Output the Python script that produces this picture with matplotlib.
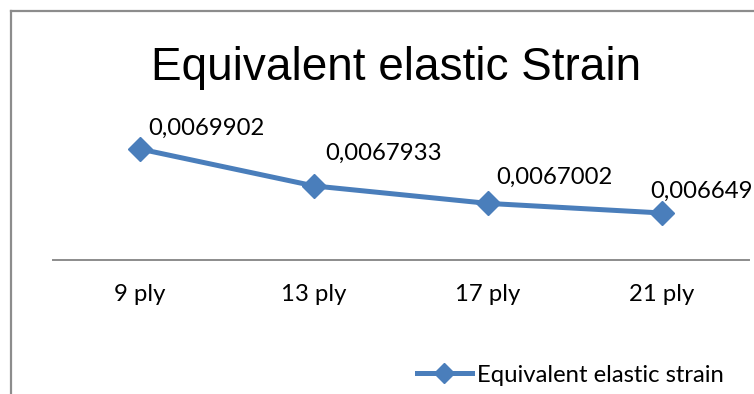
import matplotlib
matplotlib.use("Agg")
import matplotlib.pyplot as plt
from matplotlib.lines import Line2D

# Data
categories = ["9 ply", "13 ply", "17 ply", "21 ply"]
strain = [0.0069902, 0.0067933, 0.0067002, 0.006649]
series_name = "Equivalent elastic strain"
title = "Equivalent elastic Strain"

# Label placement (pixels: left edge relative to point, baseline above point)
label_offsets = [(8, 14), (11, 26), (8, 20), (-12, 15)]

W, H, DPI = 754, 394, 100
blue = "#4a7ebb"
grey = "#8c8c8c"
body_font = "Lato"
body_size = 17.2

fig = plt.figure(figsize=(W / DPI, H / DPI), dpi=DPI)
fig.patch.set_facecolor("white")

# Plot area in pixel terms
left_px, right_px, top_px, bottom_px = 53, 749, 100, 260
ax = fig.add_axes([left_px / W, (H - bottom_px) / H,
                   (right_px - left_px) / W, (bottom_px - top_px) / H])
ax.set_facecolor("none")

x = list(range(len(categories)))
ax.plot(x, strain, color=blue, lw=3.6, marker="D", markersize=12,
        markerfacecolor=blue, markeredgecolor=blue, solid_capstyle="round",
        clip_on=False, zorder=3, label=series_name)

ax.set_xlim(-0.5, len(categories) - 0.5)
ax.set_ylim(0.0063984, 0.0072514)

for spine in ("top", "left", "right"):
    ax.spines[spine].set_visible(False)
ax.spines["bottom"].set_color(grey)
ax.spines["bottom"].set_linewidth(1.4)
ax.set_yticks([])
ax.set_xticks(x)
ax.set_xticklabels(categories, fontfamily=body_font, fontsize=body_size, color="#000000")
ax.tick_params(axis="x", length=0, pad=17)


def fmt(v):
    return f"{v:.7f}".rstrip("0").replace(".", ",")


# Value labels
for xi, v, (dx, dy) in zip(x, strain, label_offsets):
    ax.annotate(fmt(v), (xi, v), xytext=(dx, dy),
                textcoords="offset pixels", ha="left", va="baseline",
                fontfamily=body_font, fontsize=body_size, color="#000000",
                annotation_clip=False)

# Title
fig.text(396.5 / W, (H - 80) / H, title, ha="center", va="baseline",
         fontfamily="Liberation Sans", fontsize=33, color="#000000")

# Chart frame (top and left edges)
frame_x, frame_y = 11 / W, (H - 11) / H
fig.add_artist(Line2D([frame_x, 1.0], [frame_y, frame_y], transform=fig.transFigure,
                      color=grey, lw=1.6))
fig.add_artist(Line2D([frame_x, frame_x], [0.0, frame_y], transform=fig.transFigure,
                      color=grey, lw=1.6))

# Legend
handle = Line2D([], [], color=blue, lw=3.6, marker="D", markersize=10,
                markerfacecolor=blue, markeredgecolor=blue)
fig.legend([handle], [series_name], loc="center left",
           bbox_to_anchor=(417 / W, (H - 375) / H), frameon=False,
           prop={"family": body_font, "size": body_size},
           handlelength=2.3, handletextpad=0.2, borderpad=0, borderaxespad=0)

fig.savefig("out.png", dpi=DPI, facecolor="white")
